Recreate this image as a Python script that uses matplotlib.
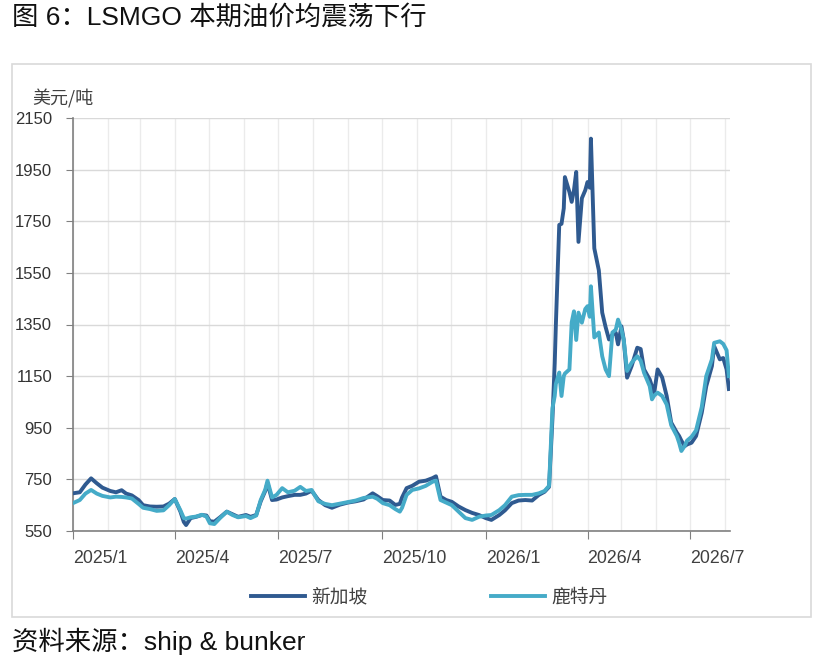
import matplotlib
matplotlib.use("Agg")
import matplotlib.pyplot as plt
import matplotlib.dates as mdates
from matplotlib.patches import Rectangle
import pandas as pd

plt.rcParams['font.family'] = ['Liberation Sans', 'Noto Sans CJK SC', 'DejaVu Sans']

dates = [
    "2025-01-01","2025-01-07","2025-01-12","2025-01-17","2025-01-22","2025-01-27","2025-02-03","2025-02-08",
    "2025-02-13","2025-02-17","2025-02-22","2025-02-28","2025-03-04","2025-03-10","2025-03-16","2025-03-22",
    "2025-03-27","2025-04-01","2025-04-06","2025-04-09","2025-04-11","2025-04-15","2025-04-20","2025-04-25",
    "2025-04-29","2025-05-02","2025-05-06","2025-05-11","2025-05-17","2025-05-22","2025-05-27","2025-06-03",
    "2025-06-07","2025-06-12","2025-06-16","2025-06-20","2025-06-22","2025-06-26","2025-06-30","2025-07-05",
    "2025-07-10","2025-07-16","2025-07-21","2025-07-26","2025-07-31","2025-08-06","2025-08-12","2025-08-18",
    "2025-08-25","2025-09-01","2025-09-08","2025-09-15","2025-09-23","2025-09-27","2025-10-02","2025-10-08",
    "2025-10-13","2025-10-17","2025-10-19","2025-10-23","2025-10-28","2025-11-03","2025-11-09","2025-11-15",
    "2025-11-18","2025-11-22","2025-11-27","2025-12-02","2025-12-08","2025-12-14","2025-12-20","2025-12-26",
    "2026-01-01","2026-01-06","2026-01-13","2026-01-18","2026-01-24","2026-01-30","2026-02-05","2026-02-11",
    "2026-02-17","2026-02-22","2026-02-26","2026-03-01","2026-03-03","2026-03-04","2026-03-07","2026-03-09",
    "2026-03-11","2026-03-12","2026-03-16","2026-03-18","2026-03-20","2026-03-22","2026-03-24","2026-03-27",
    "2026-03-30","2026-04-01","2026-04-03","2026-04-04","2026-04-07","2026-04-11","2026-04-14","2026-04-17",
    "2026-04-20","2026-04-23","2026-04-26","2026-04-28","2026-05-01","2026-05-03","2026-05-06","2026-05-10",
    "2026-05-15","2026-05-18","2026-05-21","2026-05-26","2026-05-28","2026-05-30","2026-06-02","2026-06-06",
    "2026-06-10","2026-06-14","2026-06-19","2026-06-21","2026-06-23","2026-06-26","2026-06-28","2026-07-02",
    "2026-07-06","2026-07-11","2026-07-15","2026-07-20","2026-07-22","2026-07-27","2026-07-30","2026-08-02",
    "2026-08-04",
]

singapore = [
    696,700,730,754,735,718,705,700,
    708,695,688,670,650,645,644,645,
    656,674,625,585,573,600,605,612,
    610,588,586,603,625,615,605,612,
    605,612,665,705,736,670,672,680,
    685,690,690,695,706,670,650,640,
    652,660,665,672,696,685,670,668,
    651,655,680,716,725,741,745,755,
    762,683,670,663,645,631,620,612,
    600,593,612,630,658,668,670,668,
    690,702,721,987,1200,1348,1736,1740,
    1800,1921,1863,1825,1870,1941,1670,1839,
    1870,1902,1880,2070,1645,1560,1396,1340,
    1292,1311,1318,1273,1343,1292,1144,1189,
    1260,1255,1176,1137,1110,1086,1176,1145,
    1073,970,931,918,900,879,885,892,
    918,1008,1111,1189,1266,1215,1220,1176,
    1100,
]

rotterdam = [
    658,670,695,709,695,686,680,683,
    682,680,676,655,640,635,628,630,
    650,674,630,600,598,603,606,613,
    606,580,577,600,625,612,603,608,
    600,610,670,710,745,680,690,716,
    700,706,721,705,709,665,655,650,
    656,662,668,678,683,675,658,650,
    635,625,640,690,709,715,725,741,
    745,670,660,650,625,600,593,605,
    610,612,631,650,683,689,690,690,
    696,705,725,1026,1073,1120,1164,1073,
    1150,1160,1176,1358,1401,1290,1396,1357,
    1410,1421,1380,1498,1300,1319,1227,1176,
    1150,1319,1330,1369,1330,1290,1170,1202,
    1227,1210,1163,1111,1060,1075,1086,1073,
    1040,960,918,892,860,880,900,915,
    940,1030,1150,1215,1279,1285,1275,1250,
    1150,
]

series_names = ["新加坡", "鹿特丹"]
y_ticks = [550, 750, 950, 1150, 1350, 1550, 1750, 1950, 2150]
x_ticks = ["2025-01-01","2025-04-01","2025-07-01","2025-10-01","2026-01-01","2026-04-01","2026-07-01"]

dark = "#2F5A90"
light = "#45ABC8"

W, H = 823, 661
fig = plt.figure(figsize=(W/100, H/100), dpi=100)

# outer frame
fig.patches.append(Rectangle((12/W, 1-617/H), (811-12)/W, (617-64)/H,
                             transform=fig.transFigure, fill=False,
                             edgecolor="#D9D9D9", linewidth=1.2))

ax = fig.add_axes([73/W, 1-531/H, (730-73)/W, (531-118)/H])

d = pd.to_datetime(dates)
l1, = ax.plot(d, singapore, color=dark, lw=2.8, solid_joinstyle='round', zorder=3)
l2, = ax.plot(d, rotterdam, color=light, lw=2.8, solid_joinstyle='round', zorder=4)

ax.set_ylim(550, 2150)
ax.set_xlim(pd.Timestamp("2025-01-01"), pd.Timestamp("2026-08-05"))
ax.set_yticks(y_ticks)
ax.set_yticklabels([str(v) for v in y_ticks])

xt = pd.to_datetime(x_ticks)
ax.set_xticks(xt)
ax.set_xticklabels([f"{t.year}/{t.month}" for t in xt], ha='left')
ax.xaxis.set_minor_locator(mdates.MonthLocator())

ax.grid(axis='y', which='major', color="#D9D9D9", lw=1.0)
ax.grid(axis='x', which='both', color="#EBEBEB", lw=1.0)
ax.set_axisbelow(True)

for s in ['top', 'right']:
    ax.spines[s].set_visible(False)
ax.spines['left'].set_color("#808080")
ax.spines['bottom'].set_color("#808080")
ax.spines['left'].set_linewidth(1.2)
ax.spines['bottom'].set_linewidth(1.2)

ax.tick_params(axis='y', which='major', direction='out', length=5, color="#808080",
               labelsize=12, labelcolor="#333333", pad=10)
ax.tick_params(axis='x', which='major', direction='out', length=6, color="#808080",
               labelsize=12.8, labelcolor="#404040", pad=8)
ax.tick_params(axis='x', which='minor', length=0)

ax.text(-0.062, 1.045, "美元/吨", transform=ax.transAxes, fontsize=13,
        family=['Noto Sans CJK SC'], color="#404040", ha='left', va='center')

fig.legend([l1, l2], series_names, loc='center', bbox_to_anchor=(429/W, 1-597/H),
           ncol=2, frameon=False, handlelength=2.9, handletextpad=0.3,
           columnspacing=6.6, prop={'family': 'Noto Sans CJK SC', 'size': 13.5},
           labelcolor="#404040")

fig.text(12/W, 1-17/H, "图 6：LSMGO 本期油价均震荡下行", fontsize=19,
         ha='left', va='center', color="#111111")
fig.text(12/W, 1-641/H, "资料来源：ship & bunker", fontsize=19,
         ha='left', va='center', color="#111111")

fig.savefig("out.png", dpi=100)
